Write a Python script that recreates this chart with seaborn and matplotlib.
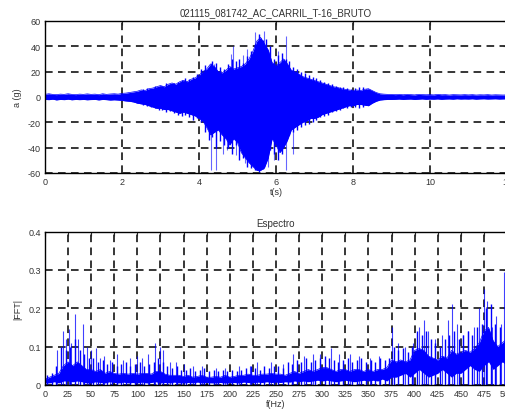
import numpy as np
import seaborn as sns
import matplotlib
matplotlib.use("Agg")
import matplotlib.pyplot as plt

# Signal envelope, one value every 0.1 s (0 .. 12 s)
t_step = 0.1
a_upper = [2, 2.5, 2, 1.8, 2.2, 2, 2.5, 2, 1.8, 2.2,
           2, 2.4, 2, 2.2, 1.8, 2.5, 2, 2.3, 2.5, 2.2,
           2.8, 3, 3.5, 4, 4.5, 5.5, 5, 6.5, 7, 8,
           9, 8, 10, 11, 10, 12, 13, 12, 14, 15,
           17, 20, 22, 26, 24, 20, 19, 21, 24, 22,
           23, 24, 26, 30, 36, 44, 47, 42, 37, 27,
           25, 27, 30, 26, 21, 20, 18, 16, 15, 14,
           13, 12, 11, 10, 9, 8, 7.5, 6.5, 6, 5.5,
           5, 5.5, 5, 6, 6.5, 5, 3.5, 2.5, 2.2, 2,
           2, 1.8, 2, 1.7, 2, 1.8, 1.6, 2, 1.8, 1.7,
           1.8, 1.6, 2, 1.7, 1.8, 1.5, 1.8, 1.7, 1.6, 1.8,
           1.6, 1.8, 1.5, 1.7, 1.6, 1.8, 1.5, 1.7, 1.6, 1.5, 1.6]
a_lower = [-2, -2.2, -1.8, -2.4, -2, -2.2, -1.8, -2.3, -2, -2.2,
           -2, -2.3, -2.1, -2, -2.4, -2, -2.2, -2.5, -2.3, -2.5,
           -2.8, -3.2, -3.5, -4, -5, -5.5, -6, -7, -8, -9,
           -9, -10, -10, -11, -12, -13, -12, -13, -14, -15,
           -17, -19, -24, -30, -28, -26, -30, -33, -38, -33,
           -36, -44, -48, -52, -55, -58, -58, -56, -48, -33,
           -38, -44, -40, -34, -26, -24, -22, -20, -19, -17,
           -17, -16, -14, -13, -12, -11, -10, -9, -8, -7,
           -7, -6, -6, -6.5, -7, -5, -3.5, -2.5, -2.2, -2,
           -2, -1.9, -1.7, -2, -1.8, -1.7, -2, -1.8, -1.6, -1.9,
           -1.7, -1.8, -1.6, -1.9, -1.7, -1.6, -1.8, -1.5, -1.7, -1.6,
           -1.7, -1.5, -1.8, -1.6, -1.5, -1.7, -1.6, -1.5, -1.7, -1.6, -1.5]

# ragged peaks between envelope samples, 2.55 .. 8.45 s
jag_t0 = 2.55
jag_up = [6, 7, 6.5, 9, 8, 9, 11, 10, 11, 12,
          13, 15, 14, 16, 18, 22, 25, 23, 28, 27,
          24, 22, 26, 30, 28, 30, 27, 32, 36, 42,
          50, 45, 46, 40, 30, 33, 35, 30, 28, 24,
          22, 20, 19, 17, 16, 15, 13, 12, 11, 10,
          9, 8, 8, 7, 6, 7, 8, 8, 6, 4]
jag_dn = [-6, -7, -8, -9, -10, -10, -12, -11, -13, -14,
          -15, -14, -16, -18, -17, -20, -28, -34, -32, -40,
          -35, -38, -40, -45, -38, -50, -48, -55, -56, -58,
          -59, -57, -50, -42, -45, -50, -45, -36, -30, -28,
          -26, -24, -22, -21, -20, -18, -16, -15, -14, -12,
          -11, -10, -9, -9, -8, -8, -9, -8, -6, -4]

# isolated thin peaks
spk_t_up = [4.3, 4.38, 4.82, 4.88, 5.15, 5.25, 5.45, 5.55, 5.68, 6.05, 6.25]
spk_a_up = [27, 26, 34, 40, 33, 38, 51, 48, 52, 36, 48]
spk_t_dn = [4.3, 4.45, 4.62, 4.72, 4.95, 5.2, 5.8, 5.95, 6.25, 6.45]
spk_a_dn = [-58, -58, -45, -42, -46, -52, -55, -50, -58, -45]

# Spectrum band, one value every 5 Hz (0 .. 500 Hz)
f_step = 5
fft_upper = [0.015, 0.02, 0.025, 0.03, 0.05, 0.06, 0.05, 0.06, 0.05, 0.04,
             0.04, 0.035, 0.04, 0.03, 0.035, 0.03, 0.028, 0.03, 0.028, 0.03,
             0.028, 0.03, 0.03, 0.028, 0.035, 0.035, 0.028, 0.025, 0.025, 0.025,
             0.022, 0.025, 0.02, 0.022, 0.025, 0.02, 0.02, 0.022, 0.02, 0.025,
             0.02, 0.022, 0.025, 0.025, 0.028, 0.025, 0.025, 0.028, 0.028, 0.03,
             0.028, 0.028, 0.025, 0.03, 0.035, 0.03, 0.035, 0.04, 0.035, 0.04,
             0.045, 0.045, 0.04, 0.035, 0.04, 0.04, 0.035, 0.04, 0.04, 0.035,
             0.04, 0.035, 0.04, 0.04, 0.045, 0.065, 0.06, 0.065, 0.06, 0.065,
             0.09, 0.095, 0.09, 0.075, 0.07, 0.065, 0.075, 0.07, 0.09, 0.08,
             0.085, 0.09, 0.085, 0.095, 0.11, 0.14, 0.15, 0.115, 0.1, 0.11, 0.12]
fft_lower = [0.005, 0.005, 0.008, 0.005, 0.01, 0.01, 0.008, 0.01, 0.008, 0.005,
             0.005, 0.008, 0.006, 0.005, 0.008, 0.006, 0.005, 0.007, 0.005, 0.006,
             0.005, 0.007, 0.005, 0.006, 0.008, 0.005, 0.006, 0.005, 0.007, 0.005,
             0.005, 0.006, 0.005, 0.007, 0.005, 0.006, 0.005, 0.005, 0.006, 0.005,
             0.005, 0.006, 0.005, 0.007, 0.006, 0.005, 0.007, 0.006, 0.008, 0.006,
             0.007, 0.006, 0.008, 0.007, 0.01, 0.008, 0.01, 0.008, 0.01, 0.012,
             0.01, 0.012, 0.01, 0.008, 0.01, 0.012, 0.01, 0.008, 0.01, 0.012,
             0.01, 0.012, 0.01, 0.015, 0.01, 0.02, 0.02, 0.025, 0.03, 0.02,
             0.03, 0.04, 0.03, 0.02, 0.025, 0.03, 0.04, 0.03, 0.02, 0.03,
             0.03, 0.04, 0.05, 0.04, 0.035, 0.05, 0.06, 0.04, 0.05, 0.06, 0.05]

# ragged peaks between band samples, 2.5 .. 497.5 Hz
jag_f0 = 2.5
jag_fft = [0.025, 0.03, 0.05, 0.1, 0.09, 0.1, 0.12, 0.09, 0.08, 0.07,
           0.07, 0.06, 0.065, 0.055, 0.06, 0.05, 0.055, 0.06, 0.05, 0.055,
           0.06, 0.05, 0.055, 0.06, 0.07, 0.06, 0.05, 0.045, 0.05, 0.04,
           0.04, 0.045, 0.035, 0.04, 0.045, 0.035, 0.04, 0.035, 0.04, 0.035,
           0.04, 0.035, 0.04, 0.045, 0.05, 0.045, 0.04, 0.05, 0.045, 0.05,
           0.05, 0.045, 0.06, 0.055, 0.065, 0.06, 0.07, 0.06, 0.065, 0.07,
           0.075, 0.07, 0.065, 0.06, 0.065, 0.07, 0.06, 0.065, 0.07, 0.06,
           0.065, 0.06, 0.07, 0.065, 0.07, 0.1, 0.09, 0.095, 0.085, 0.1,
           0.14, 0.13, 0.14, 0.12, 0.11, 0.1, 0.12, 0.13, 0.14, 0.12,
           0.13, 0.14, 0.13, 0.15, 0.16, 0.2, 0.21, 0.16, 0.15, 0.17]

spk_f = [13, 20, 23, 26, 28, 33, 36, 41, 46, 50, 55, 60, 64, 70, 78, 85, 92,
         100, 105, 112, 119, 124, 128, 135, 142, 150, 160, 170, 185, 195, 210,
         222, 230, 245, 258, 268, 280, 290, 298, 309, 318, 330, 340, 352, 362,
         375, 382, 390, 398, 405, 410, 415, 422, 430, 436, 441, 446, 452, 458,
         464, 470, 475, 478, 484, 488, 493, 497]
spk_fft = [0.09, 0.14, 0.12, 0.145, 0.11, 0.185, 0.12, 0.16, 0.1, 0.09, 0.095,
           0.07, 0.075, 0.065, 0.08, 0.065, 0.07, 0.075, 0.07, 0.08, 0.11, 0.1,
           0.09, 0.06, 0.06, 0.055, 0.05, 0.05, 0.045, 0.045, 0.05, 0.05, 0.06,
           0.06, 0.055, 0.08, 0.075, 0.08, 0.08, 0.095, 0.08, 0.08, 0.075, 0.07,
           0.075, 0.15, 0.11, 0.1, 0.11, 0.15, 0.17, 0.14, 0.12, 0.13, 0.17,
           0.21, 0.16, 0.13, 0.14, 0.15, 0.2, 0.25, 0.22, 0.15, 0.18, 0.16, 0.295]

t = np.arange(len(a_upper)) * t_step
t_jag = jag_t0 + np.arange(len(jag_up)) * t_step
f = np.arange(len(fft_upper)) * f_step
f_jag = jag_f0 + np.arange(len(jag_fft)) * f_step

sns.set_theme(style="white")
plt.rcParams['font.family'] = ['Liberation Sans', 'DejaVu Sans']
plt.rcParams['axes.unicode_minus'] = False

blue = '#0000ff'
txt = '#333333'
fig = plt.figure(figsize=(5.05, 4.14), dpi=100)
ax1 = fig.add_axes([0.089, 0.580, 0.915, 0.367])
ax2 = fig.add_axes([0.089, 0.068, 0.915, 0.370])

# top: time signal
sns.lineplot(x=t, y=a_upper, ax=ax1, color=blue, lw=0.5)
sns.lineplot(x=t, y=a_lower, ax=ax1, color=blue, lw=0.5)
ax1.fill_between(t, a_lower, a_upper, color=blue, lw=0)
ax1.vlines(t_jag, 0, jag_up, color=blue, lw=1.0)
ax1.vlines(t_jag, jag_dn, 0, color=blue, lw=1.0)
ax1.vlines(spk_t_up, 0, spk_a_up, color=blue, lw=0.8, alpha=0.6)
ax1.vlines(spk_t_dn, spk_a_dn, 0, color=blue, lw=0.8, alpha=0.6)
ax1.set_xlim(0, 12)
ax1.set_ylim(-60, 60)
ax1.set_xticks([0, 2, 4, 6, 8, 10, 12])
ax1.set_yticks([-60, -40, -20, 0, 20, 40, 60])
ax1.set_title('021115_081742_AC_CARRIL_T-16_BRUTO', fontsize=7, color=txt, pad=4)
ax1.set_xlabel('t(s)', fontsize=6.5, color=txt, labelpad=1)
ax1.set_ylabel('a (g)', fontsize=6.5, color=txt, labelpad=4)

# bottom: spectrum
sns.lineplot(x=f, y=fft_upper, ax=ax2, color=blue, lw=0.5)
ax2.fill_between(f, fft_lower, fft_upper, color=blue, lw=0)
ax2.vlines(f_jag, 0, jag_fft, color=blue, lw=1.0)
ax2.vlines(spk_f, 0, spk_fft, color=blue, lw=0.8, alpha=0.75)
ax2.set_xlim(0, 500)
ax2.set_ylim(0, 0.4)
ax2.set_xticks(range(0, 501, 25))
ax2.set_yticks([0, 0.1, 0.2, 0.3, 0.4])
ax2.set_yticklabels(['0', '0.1', '0.2', '0.3', '0.4'])
ax2.set_title('Espectro', fontsize=7, color=txt, pad=4)
ax2.set_xlabel('f(Hz)', fontsize=6.5, color=txt, labelpad=1)
ax2.set_ylabel('|FFT|', fontsize=6.5, color=txt, labelpad=4)

for ax in (ax1, ax2):
    ax.grid(True, color='black', lw=1.1, linestyle=(0, (5, 3.5)))
    ax.set_axisbelow(True)
    ax.tick_params(direction='in', length=3, width=0.8, labelsize=6.5,
                   labelcolor=txt, pad=3, top=True, right=True)
    for s in ax.spines.values():
        s.set_color('black')
        s.set_linewidth(1.0)

fig.savefig('out.png', dpi=100)
